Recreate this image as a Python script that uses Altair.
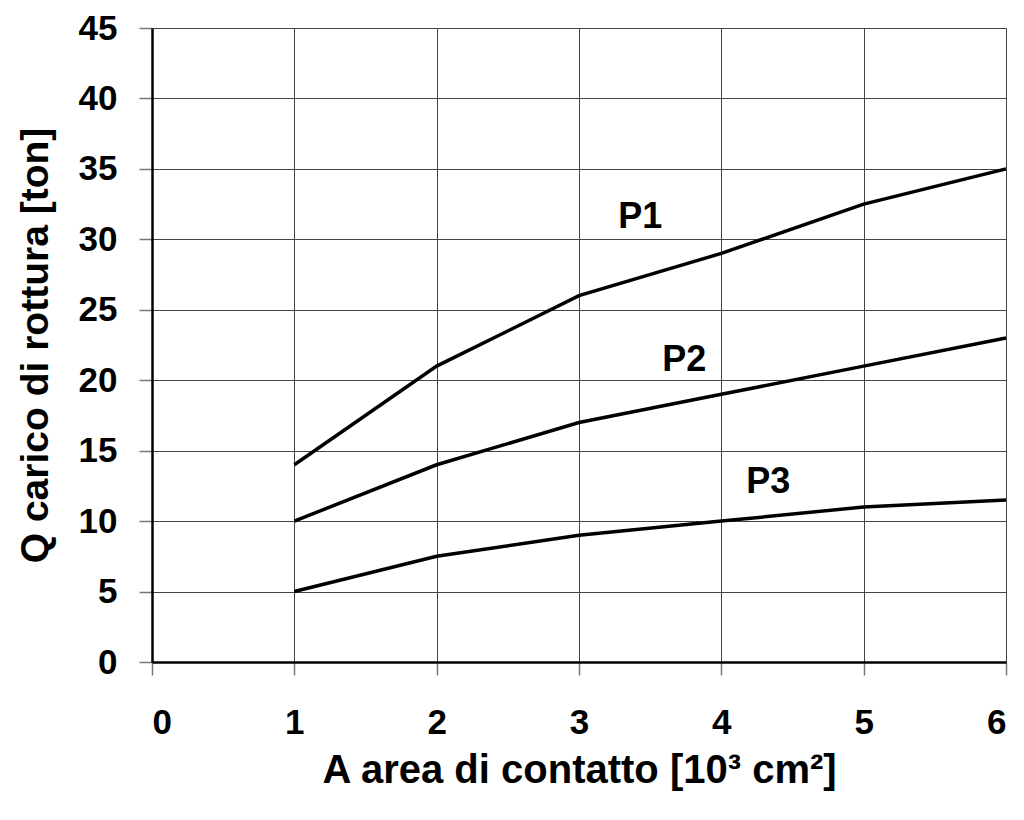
import altair as alt
import pandas as pd

x_vals = [1, 2, 3, 4, 5, 6]
p1 = [14, 21, 26, 29, 32.5, 35]
p2 = [10, 14, 17, 19, 21, 23]
p3 = [5, 7.5, 9, 10, 11, 11.5]

label_names = ["P1", "P2", "P3"]
label_x = [3.43, 3.74, 4.33]
label_y = [31.6, 21.4, 12.8]

rows = []
for name, ys in zip(label_names, [p1, p2, p3]):
    for xv, yv in zip(x_vals, ys):
        rows.append({"serie": name, "A": xv, "Q": yv})
df = pd.DataFrame(rows)
df_lab = pd.DataFrame({"serie": label_names, "A": label_x, "Q": label_y})

FONT = "Liberation Sans"

x_enc = alt.X("A:Q", scale=alt.Scale(domain=[0, 6], nice=False),
              axis=alt.Axis(title="A area di contatto [10³ cm²]", values=[0, 1, 2, 3, 4, 5, 6],
                            format="d", labelPadding=30, titlePadding=10, titleFontSize=40))
y_enc = alt.Y("Q:Q", scale=alt.Scale(domain=[0, 45], nice=False),
              axis=alt.Axis(title="Q carico di rottura [ton]", values=list(range(0, 50, 5)),
                            format="d", labelPadding=22, titlePadding=23, titleFontSize=39))

lines = alt.Chart(df).mark_line(color="black", strokeWidth=3.5).encode(
    x=x_enc, y=y_enc, detail="serie:N")

labels = alt.Chart(df_lab).mark_text(font=FONT, fontSize=36, fontWeight="bold",
                                     color="black", align="center", baseline="middle").encode(
    x="A:Q", y="Q:Q", text="serie:N")

chart = alt.layer(lines, labels).properties(
    width=854, height=634, autosize=alt.AutoSizeParams(type="none"),
    padding={"left": 144, "top": 20, "right": 10, "bottom": 148},
    background="white"
).configure_view(stroke=None).configure_axis(
    labelFont=FONT, titleFont=FONT, labelFontSize=35,
    labelFontWeight="bold", titleFontWeight="bold", labelColor="black", titleColor="black",
    domainColor="black", domainWidth=2.5, gridColor="#444", gridWidth=1,
    tickColor="#777", tickSize=13, tickWidth=1.5
)

chart.save("out.html", embed_options={"renderer": "svg", "actions": False})
